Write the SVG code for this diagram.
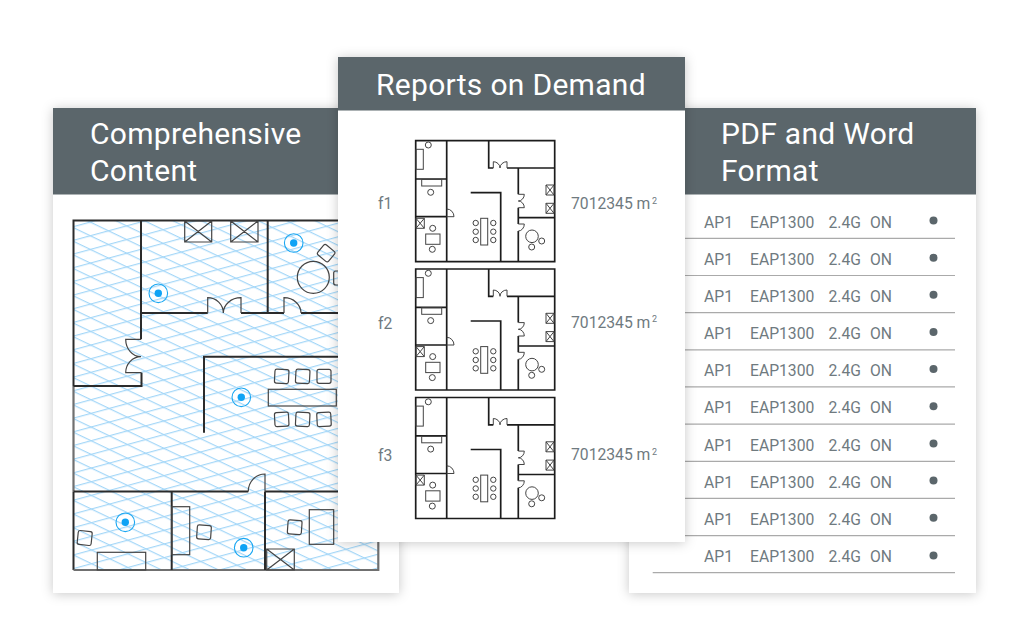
<svg xmlns="http://www.w3.org/2000/svg" xmlns:xlink="http://www.w3.org/1999/xlink" width="1024" height="639" viewBox="0 0 1024 639">
<style>
text{font-family:Roboto,"Liberation Sans",sans-serif}
.card{fill:#fff;filter:url(#sh)}
.head{fill:#5b666b}
.t{fill:#fff;font-size:30px;letter-spacing:.3px}
.wall{fill:none;stroke:#2b2b2b;stroke-width:2}
.soft{fill:none;stroke:#707070;stroke-width:2.2}
.thin{fill:none;stroke:#444;stroke-width:1.2}
.ap1{fill:none;stroke:#1aa7f2;stroke-width:1.1}
.ap2{fill:#0fa3f5}
.mw{fill:none;stroke:#1c1c1c;stroke-width:1.7}
.mt{fill:none;stroke:#444;stroke-width:1}
.lb{fill:#6f7a7f;font-size:15.7px}
.sup{fill:#6f7a7f;font-size:9px}
.rule{stroke:#aaa;stroke-width:1.2}
.dot{fill:#5b666b}
</style>
<defs>
<filter id="sh" x="-10%" y="-10%" width="120%" height="120%"><feDropShadow dx="0" dy="1" stdDeviation="6" flood-color="#000" flood-opacity=".22"/></filter>
<pattern id="gf" patternUnits="userSpaceOnUse" width="10" height="12.3" patternTransform="translate(91 399.1) rotate(25.6)"><rect width="10" height="1.2" fill="#a4d7f8"/></pattern>
<pattern id="gr" patternUnits="userSpaceOnUse" width="10" height="13.2" patternTransform="translate(91 399.1) rotate(-15.2)"><rect width="10" height="1.2" fill="#a4d7f8"/></pattern>
<g id="mini">
<path class="mw" d="M415.7 140.7H554.7V261.7H415.7Z"/>
<path class="mw" d="M446.7 140.7V261.7M415.7 179H446.7M415.7 216.7H446.7"/>
<path class="mt" d="M446.7 216.7H454A7.3 7.7 0 0 0 446.7 209"/>
<path class="mw" d="M488.7 140.7V168H493.3M507 168H554.7"/>
<path class="mt" d="M493.3 168V161.7A6.7 6.3 0 0 1 500 168A7 6.3 0 0 1 507 161.7V168"/>
<path class="mw" d="M518.3 168V194.3M518.3 207.7V224M518.3 231V261.7M518.3 217.7H554.7"/>
<path class="mt" d="M518.3 194.3H524.3A6 6.7 0 0 1 518.3 201A6 6.7 0 0 1 524.3 207.7H518.3M518.3 224H524.3A6 7 0 0 1 518.3 231"/>
<path class="mw" d="M470.7 192.7H500.7V261.7"/>
<rect class="mt" x="421.7" y="179.5" width="20" height="6.5"/>
<rect class="mt" x="416" y="149.3" width="7.3" height="20"/>
<circle class="mt" cx="428.3" cy="145" r="3"/><circle class="mt" cx="430.7" cy="192.3" r="3"/>
<path class="mt" d="M416 218.3H424.3V228.3H416ZM416 218.3L424.3 228.3M424.3 218.3L416 228.3"/>
<circle class="mt" cx="432.7" cy="228.3" r="3"/><rect class="mt" x="425.7" y="234" width="14.3" height="10.3"/><circle class="mt" cx="432.3" cy="249.3" r="3"/>
<rect class="mt" x="480.7" y="218.3" width="7" height="26.7"/>
<circle class="mt" cx="475.7" cy="223" r="2.7"/><circle class="mt" cx="475.7" cy="231.7" r="2.7"/><circle class="mt" cx="475.7" cy="240" r="2.7"/>
<circle class="mt" cx="493.3" cy="223" r="2.7"/><circle class="mt" cx="493.3" cy="231.7" r="2.7"/><circle class="mt" cx="493.3" cy="240" r="2.7"/>
<circle class="mt" cx="532" cy="236.3" r="6.3"/><circle class="mt" cx="541.7" cy="241" r="3"/><circle class="mt" cx="531.7" cy="247" r="3"/>
<path class="mt" d="M546 185H554V195H546ZM546 185L554 195M554 185L546 195M546 203.3H554V213.3H546ZM546 203.3L554 213.3M554 203.3L546 213.3"/>
</g>
</defs>
<rect width="1024" height="639" fill="#fff"/>

<g id="card-comprehensive">
<rect class="card" x="53" y="108" width="346" height="485"/>
<rect class="head" x="53" y="108" width="346" height="86.5"/>
<text class="t" x="90" y="144">Comprehensive</text>
<text class="t" x="90" y="180.5">Content</text>
<g id="floorplan">
<rect x="73.5" y="220.5" width="304.8" height="349.5" fill="url(#gf)"/>
<rect x="73.5" y="220.5" width="304.8" height="349.5" fill="url(#gr)"/>
<path class="wall" d="M73.5 386V220.5H378.3M73.5 491.5V570"/>
<path class="soft" d="M73.5 386V491.5M73.5 570H378.3V491.5"/>
<path class="wall" d="M141 220.5V339.3M141.5 372.7V386H73.5"/>
<path class="thin" d="M141 339.3H125.7A15.3 17.4 0 0 0 141 356.7A15.3 16 0 0 0 125.7 372.7H141.5"/>
<path class="wall" d="M141 313H207.7M241 313H267.7M267.7 220.5V313H284M301 313H378.3"/>
<path class="thin" d="M207.7 313V297.7A15.6 15.3 0 0 1 223.3 313A17.7 15.3 0 0 1 241 297.7V313M284 313V297.7A17 15.3 0 0 1 301 313"/>
<path class="wall" d="M204 432.7V356.7H378.3"/>
<path class="wall" d="M73.5 491.5H248.3M265 491.5V570M265 491.5H378.3M171.7 491.5V570"/>
<path class="thin" d="M248.3 491.5A16.7 17.3 0 0 1 265 474V491.5"/>
<g class="thin">
<path d="M184.7 221H211.7V242H184.7ZM184.7 221L211.7 242M211.7 221L184.7 242M230.7 221H258V242H230.7ZM230.7 221L258 242M258 221L230.7 242"/>
<circle cx="313.3" cy="277.3" r="16"/>
<rect x="319.3" y="246.7" width="14" height="13" rx="2" transform="rotate(40 326.3 253)"/>
<rect x="333.7" y="271" width="14" height="14" rx="2"/>
<rect x="274.7" y="369.3" width="14" height="14" rx="2" transform="rotate(3 281.7 376.3)"/>
<rect x="295.7" y="369.3" width="14" height="14" rx="2" transform="rotate(3 302.7 376.3)"/>
<rect x="317" y="369.3" width="14" height="14" rx="2"/>
<rect x="268.3" y="389.3" width="68" height="16.7"/>
<rect x="274.7" y="412.3" width="14" height="14" rx="2" transform="rotate(-3 281.7 419.3)"/>
<rect x="295.7" y="412.3" width="14" height="14" rx="2" transform="rotate(3 302.7 419.3)"/>
<rect x="317" y="412.3" width="14" height="14" rx="2" transform="rotate(-3 324 419.3)"/>
<rect x="77.7" y="531" width="14" height="14" rx="2" transform="rotate(6 84.7 538)"/>
<rect x="97.3" y="552.3" width="48.4" height="17.7"/>
<rect x="171.7" y="506.7" width="18" height="48"/>
<rect x="197" y="525.3" width="14" height="14" rx="2" transform="rotate(4 204 532.3)"/>
<rect x="287.7" y="520.3" width="14" height="14" rx="2" transform="rotate(4 294.7 527.3)"/>
<rect x="309.3" y="509.7" width="24.4" height="34.6"/>
<path d="M266.7 549H294.3V570H266.7ZM266.7 549L294.3 570M294.3 549L266.7 570"/>
</g>
<g id="ap-1"><circle class="ap1" cx="158.3" cy="293.3" r="9.3"/><circle class="ap2" cx="158.3" cy="293.3" r="3.7"/></g>
<g id="ap-2"><circle class="ap1" cx="293.7" cy="243" r="9.3"/><circle class="ap2" cx="293.7" cy="243" r="3.7"/></g>
<g id="ap-3"><circle class="ap1" cx="241.3" cy="397.3" r="9.3"/><circle class="ap2" cx="241.3" cy="397.3" r="3.7"/></g>
<g id="ap-4"><circle class="ap1" cx="125.3" cy="522.3" r="9.3"/><circle class="ap2" cx="125.3" cy="522.3" r="3.7"/></g>
<g id="ap-5"><circle class="ap1" cx="243.7" cy="547.7" r="9.3"/><circle class="ap2" cx="243.7" cy="547.7" r="3.7"/></g>
</g>
</g>

<g id="card-pdf">
<rect class="card" x="629" y="108" width="347" height="485"/>
<rect class="head" x="629" y="108" width="347" height="86.5"/>
<text class="t" x="721" y="144">PDF and Word</text>
<text class="t" x="721" y="180.5">Format</text>
<g id="row-1" class="lb"><text x="704" y="227.5">AP1</text><text x="750" y="227.5">EAP1300</text><text x="828.5" y="227.5">2.4G</text><text x="870" y="227.5">ON</text><circle class="dot" cx="933.5" cy="220.5" r="4"/><line class="rule" x1="652.7" y1="238.3" x2="955" y2="238.3"/></g>
<g id="row-2" class="lb"><text x="704" y="264.7">AP1</text><text x="750" y="264.7">EAP1300</text><text x="828.5" y="264.7">2.4G</text><text x="870" y="264.7">ON</text><circle class="dot" cx="933.5" cy="257.7" r="4"/><line class="rule" x1="652.7" y1="275.5" x2="955" y2="275.5"/></g>
<g id="row-3" class="lb"><text x="704" y="301.8">AP1</text><text x="750" y="301.8">EAP1300</text><text x="828.5" y="301.8">2.4G</text><text x="870" y="301.8">ON</text><circle class="dot" cx="933.5" cy="294.8" r="4"/><line class="rule" x1="652.7" y1="312.6" x2="955" y2="312.6"/></g>
<g id="row-4" class="lb"><text x="704" y="339">AP1</text><text x="750" y="339">EAP1300</text><text x="828.5" y="339">2.4G</text><text x="870" y="339">ON</text><circle class="dot" cx="933.5" cy="332" r="4"/><line class="rule" x1="652.7" y1="349.8" x2="955" y2="349.8"/></g>
<g id="row-5" class="lb"><text x="704" y="376.1">AP1</text><text x="750" y="376.1">EAP1300</text><text x="828.5" y="376.1">2.4G</text><text x="870" y="376.1">ON</text><circle class="dot" cx="933.5" cy="369.1" r="4"/><line class="rule" x1="652.7" y1="386.9" x2="955" y2="386.9"/></g>
<g id="row-6" class="lb"><text x="704" y="413.3">AP1</text><text x="750" y="413.3">EAP1300</text><text x="828.5" y="413.3">2.4G</text><text x="870" y="413.3">ON</text><circle class="dot" cx="933.5" cy="406.3" r="4"/><line class="rule" x1="652.7" y1="424.1" x2="955" y2="424.1"/></g>
<g id="row-7" class="lb"><text x="704" y="450.5">AP1</text><text x="750" y="450.5">EAP1300</text><text x="828.5" y="450.5">2.4G</text><text x="870" y="450.5">ON</text><circle class="dot" cx="933.5" cy="443.5" r="4"/><line class="rule" x1="652.7" y1="461.3" x2="955" y2="461.3"/></g>
<g id="row-8" class="lb"><text x="704" y="487.6">AP1</text><text x="750" y="487.6">EAP1300</text><text x="828.5" y="487.6">2.4G</text><text x="870" y="487.6">ON</text><circle class="dot" cx="933.5" cy="480.6" r="4"/><line class="rule" x1="652.7" y1="498.4" x2="955" y2="498.4"/></g>
<g id="row-9" class="lb"><text x="704" y="524.8">AP1</text><text x="750" y="524.8">EAP1300</text><text x="828.5" y="524.8">2.4G</text><text x="870" y="524.8">ON</text><circle class="dot" cx="933.5" cy="517.8" r="4"/><line class="rule" x1="652.7" y1="535.6" x2="955" y2="535.6"/></g>
<g id="row-10" class="lb"><text x="704" y="561.9">AP1</text><text x="750" y="561.9">EAP1300</text><text x="828.5" y="561.9">2.4G</text><text x="870" y="561.9">ON</text><circle class="dot" cx="933.5" cy="555.5" r="4"/><line class="rule" x1="652.7" y1="572.7" x2="955" y2="572.7"/></g>
</g>

<g id="card-reports">
<rect class="card" x="338" y="57" width="347" height="485"/>
<rect class="head" x="338" y="57" width="347" height="53.5"/>
<text class="t" x="376" y="94.5">Reports on Demand</text>
<g id="floor-1"><use href="#mini" xlink:href="#mini"/><text class="lb" x="378" y="208.7">f1</text><text class="lb" x="571" y="208.7">7012345 m</text><text class="sup" x="652" y="203.5">2</text></g>
<g id="floor-2"><use href="#mini" xlink:href="#mini" y="128.3"/><text class="lb" x="378" y="328.7">f2</text><text class="lb" x="571" y="327.5">7012345 m</text><text class="sup" x="652" y="322.3">2</text></g>
<g id="floor-3"><use href="#mini" xlink:href="#mini" y="256.8"/><text class="lb" x="378" y="460.7">f3</text><text class="lb" x="571" y="459.7">7012345 m</text><text class="sup" x="652" y="454.5">2</text></g>
</g>
</svg>
